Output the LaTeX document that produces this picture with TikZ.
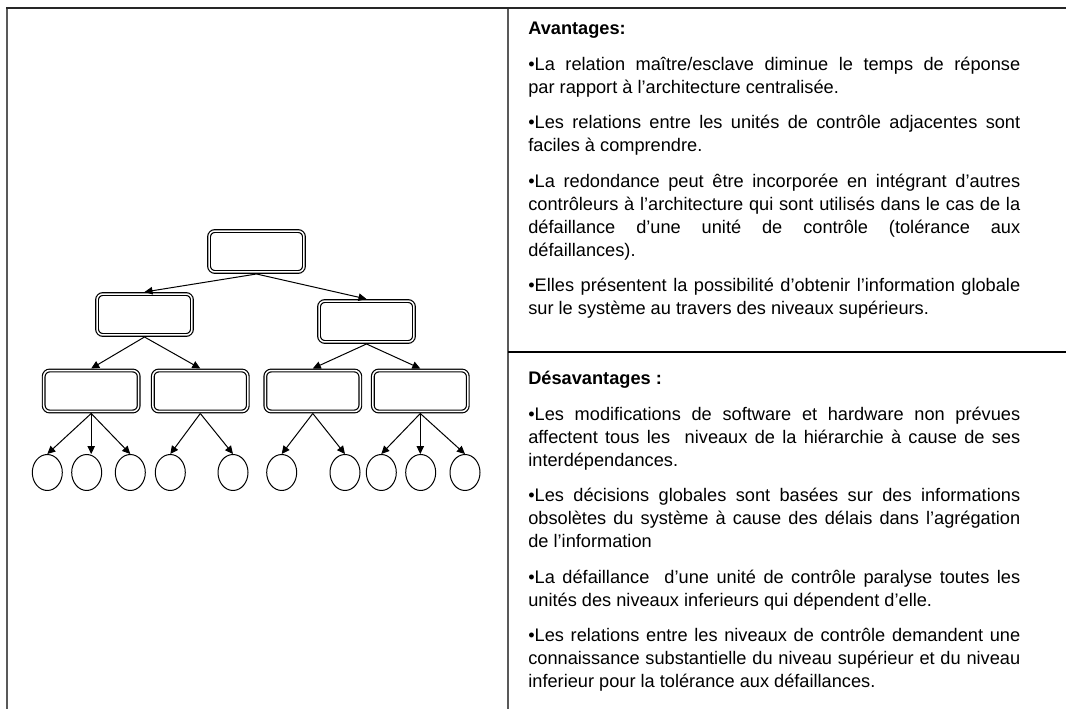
\documentclass[tikz,border=0pt]{standalone}
\usepackage{fontspec}
\setmainfont{Liberation Sans}
\usetikzlibrary{shapes.geometric,arrows.meta}
\hyphenpenalty=10000
\exhyphenpenalty=10000

\begin{document}
\begin{tikzpicture}[x=0.02cm,y=-0.02cm,
  ctrl/.style={draw,double,double distance=0.03cm,line width=0.024cm,rounded corners=0.12cm,
    minimum width=1.9cm,minimum height=0.82cm,inner sep=0,outer sep=0.04cm},
  leaf/.style={draw,ellipse,line width=0.02cm,minimum width=0.6cm,minimum height=0.72cm,inner sep=0},
  link/.style={line width=0.02cm,-{Triangle[length=0.16cm,width=0.15cm]}},
  frame/.style={line width=0.04cm,draw=black!65},
  para/.style={anchor=base west,inner sep=0,text width=9.84cm,align=justify,
    font=\fontsize{10.36pt}{13.09pt}\selectfont,
    execute at begin node={\setlength{\parskip}{7.1pt}\setlength{\parindent}{0pt}\emergencystretch=2em}}]

\useasboundingbox (0,0) rectangle (1066,709);

\draw[frame] (7,709) -- (7,8);
\draw[frame] (508,709) -- (508,8);
\draw[line width=0.03cm,black!85] (6,8) -- (1066,8);
\draw[line width=0.025cm] (508,352) -- (1066,352);

\node[ctrl] (top) at (256.5,251.5) {};
\node[ctrl] (midl) at (144.5,314.5) {};
\node[ctrl] (midr) at (366.5,321.5) {};
\node[ctrl] (low1) at (91.2,391) {};
\node[ctrl] (low2) at (200.3,391) {};
\node[ctrl] (low3) at (312.8,391) {};
\node[ctrl] (low4) at (420.3,391) {};

\foreach \x [count=\i] in {47.3,86.7,130.3,170.3,233,281.7,345,381.3,420.7,465}
  \node[leaf] (leaf\i) at (\x,472.5) {};

\draw[link] (top.south) -- (midl.north);
\draw[link] (top.south) -- (midr.north);
\draw[link] (midl.south) -- (low1.north);
\draw[link] (midl.south) -- (low2.north);
\draw[link] (midr.south) -- (low3.north);
\draw[link] (midr.south) -- (low4.north);

\foreach \a/\b in {1/1,1/3,2/4,2/5,3/6,3/7,4/8,4/10}
  \draw[link] (low\a.south) -- (leaf\b.north);
\draw[link] (low1.south) -- (low1.south |- leaf2.north);
\draw[link] (low4.south) -- (low4.south |- leaf9.north);

\node[para] (pros) at (528,35) {\textbf{Avantages:}\par
•La relation maître/esclave diminue le temps de réponse\linebreak par rapport à l’architecture centralisée.\par
•Les relations entre les unités de contrôle adjacentes sont faciles à comprendre.\par
•La redondance peut être incorporée en intégrant d’autres contrôleurs à l’architecture qui sont utilisés dans le cas de la\linebreak défaillance d’une unité de contrôle (tolérance aux défaillances).\par
•Elles présentent la possibilité d’obtenir l’information globale sur le système au travers des niveaux supérieurs.};

\node[para] (cons) at (528,385) {\textbf{Désavantages :}\par
•Les modifications de software et hardware non prévues affectent tous les \ niveaux de la hiérarchie à cause de ses interdépendances.\par
•Les décisions globales sont basées sur des informations obsolètes du système à cause des délais dans l’agrégation de l’information\par
•La défaillance \ d’une unité de contrôle paralyse toutes les unités des niveaux inferieurs qui dépendent d’elle.\par
•Les relations entre les niveaux de contrôle demandent une connaissance substantielle du niveau supérieur et du niveau inferieur pour la tolérance aux défaillances.};

\end{tikzpicture}
\end{document}
